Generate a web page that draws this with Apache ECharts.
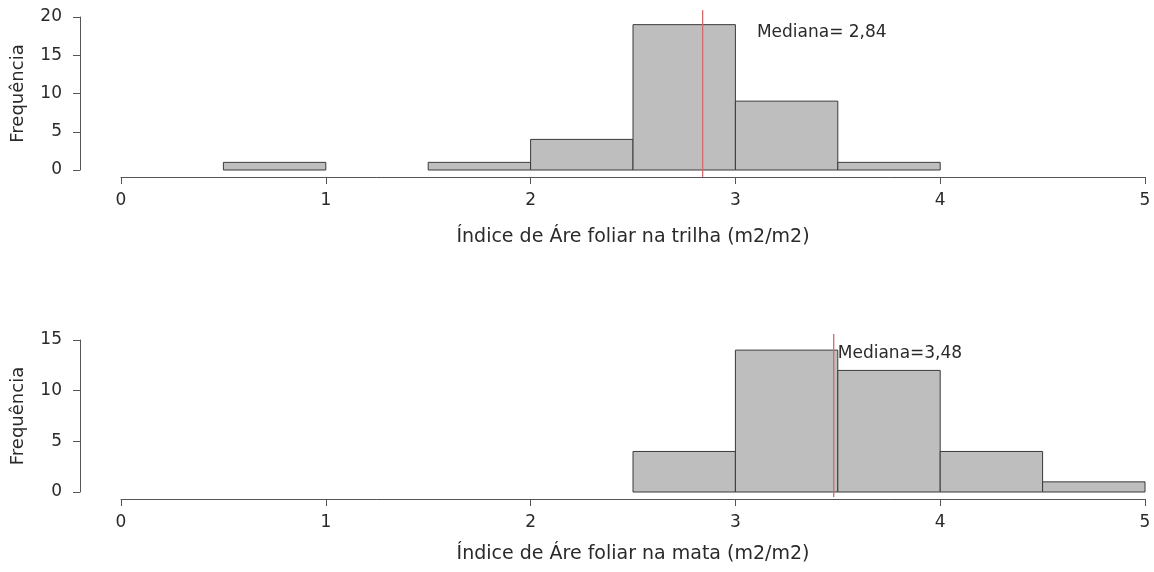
<!DOCTYPE html>
<html><head><meta charset="utf-8">
<script src="https://cdn.jsdelivr.net/npm/echarts@6/dist/echarts.min.js"></script>
<style>html,body{margin:0;padding:0;background:#fff}#c{width:1154px;height:572px}</style>
</head><body><div id="c"></div>
<script>
const binStarts = [0, 0.5, 1, 1.5, 2, 2.5, 3, 3.5, 4, 4.5];
const binWidth = 0.5;
const countsTrilha = [0, 1, 0, 1, 4, 19, 9, 1, 0, 0];
const countsMata = [0, 0, 0, 0, 0, 4, 14, 12, 4, 1];
const medianTrilha = 2.84;
const medianMata = 3.48;
const labelTrilha = 'Mediana= 2,84';
const labelMata = 'Mediana=3,48';
const xNameTrilha = 'Índice de Áre foliar na trilha (m2/m2)';
const xNameMata = 'Índice de Áre foliar na mata (m2/m2)';
const yName = 'Frequência';

const FONT = '"DejaVu Sans", Verdana, sans-serif';
const TXT = '#2a2a2a';
const AX = '#555';

function barsData(counts){
  return binStarts.map((s,i)=>[s, s+binWidth, counts[i]]).filter(d=>d[2]>0);
}
function histSeries(idx, counts){
  return {
    type:'custom', xAxisIndex:idx, yAxisIndex:idx, data:barsData(counts),
    renderItem:(p,api)=>{
      const a=api.coord([api.value(0),0]);
      const b=api.coord([api.value(1),api.value(2)]);
      return {type:'rect', shape:{x:a[0], y:b[1], width:b[0]-a[0], height:a[1]-b[1]},
        style:{fill:'#bebebe', stroke:'#3a3a3a', lineWidth:1}};
    }
  };
}
function medianSeries(idx, med, y0, y1){
  return {type:'line', xAxisIndex:idx, yAxisIndex:idx, data:[[med,y0],[med,y1]],
    symbol:'none', clip:false, silent:true, lineStyle:{color:'#d46a6a', width:1.3}, z:5};
}
function textSeries(idx, x, y, txt){
  return {type:'custom', xAxisIndex:idx, yAxisIndex:idx, data:[[x,y]], clip:false, z:6,
    renderItem:(p,api)=>{
      const c=api.coord([api.value(0),api.value(1)]);
      return {type:'text', x:c[0], y:c[1], style:{text:txt, fill:TXT, font:'17px '+FONT, textVerticalAlign:'middle', textAlign:'left'}};
    }};
}
function xAxis(grid, name, gap){
  return {type:'value', gridIndex:grid, min:0, max:5, interval:1, offset:7,
    name:name, nameLocation:'middle', nameGap:gap,
    nameTextStyle:{color:TXT, fontSize:19, fontFamily:FONT},
    axisLine:{show:true, onZero:false, lineStyle:{color:AX, width:1}},
    axisTick:{show:true, length:7, lineStyle:{color:AX}},
    axisLabel:{color:TXT, fontSize:17, fontFamily:FONT, margin:15},
    splitLine:{show:false}};
}
function yAxis(grid, max){
  return {type:'value', gridIndex:grid, min:0, max:max, interval:5, offset:41,
    name:yName, nameLocation:'middle', nameGap:53,
    nameTextStyle:{color:TXT, fontSize:18, fontFamily:FONT},
    axisLine:{show:true, onZero:false, lineStyle:{color:AX, width:1}},
    axisTick:{show:true, length:7, lineStyle:{color:AX}},
    axisLabel:{color:TXT, fontSize:17, fontFamily:FONT, margin:18},
    splitLine:{show:false}};
}
const chart = echarts.init(document.getElementById('c'), null, {renderer:'canvas'});
chart.setOption({
  animation:false,
  backgroundColor:'#fff',
  grid:[{left:121, right:9, top:17, height:153},{left:121, right:9, top:340, height:152}],
  xAxis:[xAxis(0, xNameTrilha, 51), xAxis(1, xNameMata, 46)],
  yAxis:[yAxis(0, 20), yAxis(1, 15)],
  series:[
    histSeries(0, countsTrilha),
    histSeries(1, countsMata),
    medianSeries(0, medianTrilha, -0.9, 20.9),
    medianSeries(1, medianMata, -0.5, 15.6),
    textSeries(0, 3.105, 17.9, labelTrilha),
    textSeries(1, 3.5, 13.7, labelMata)
  ]
});
</script></body></html>
